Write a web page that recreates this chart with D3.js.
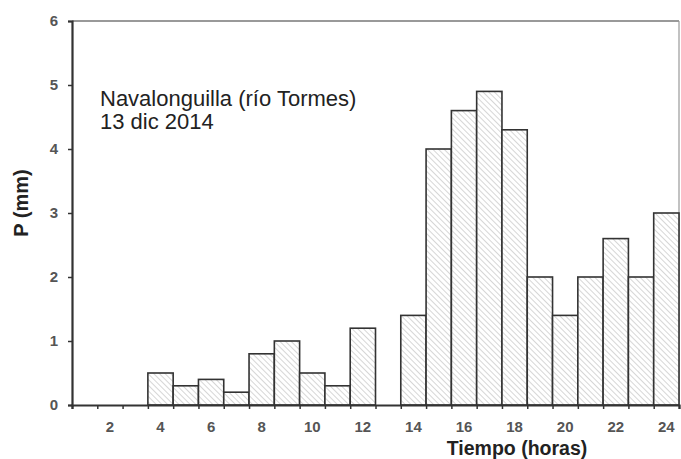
<!DOCTYPE html>
<html>
<head>
<meta charset="utf-8">
<script src="https://cdn.jsdelivr.net/npm/d3@7"></script>
<style>
  body { margin: 0; background: #fff; }
  text { font-family: "Liberation Sans", Arial, sans-serif; }
</style>
</head>
<body>
<svg id="chart" width="681" height="459"></svg>
<script>
// hourly precipitation, value for the hour ending at "hour"
var hours = [1, 2, 3, 4, 5, 6, 7, 8, 9, 10, 11, 12, 13, 14, 15, 16, 17, 18, 19, 20, 21, 22, 23, 24];
var precip = [0, 0, 0, 0.5, 0.3, 0.4, 0.2, 0.8, 1.0, 0.5, 0.3, 1.2, 0, 1.4, 4.0, 4.6, 4.9, 4.3, 2.0, 1.4, 2.0, 2.6, 2.0, 3.0];
var xLabels = [2, 4, 6, 8, 10, 12, 14, 16, 18, 20, 22, 24];
var yTicks = [0, 1, 2, 3, 4, 5, 6];
var noteLines = ["Navalonguilla (río Tormes)", "13 dic 2014"];

var data = hours.map(function (h, i) { return { hour: h, p: precip[i] }; });

var svg = d3.select("#chart");

var plotLeft = 72, plotRight = 679, plotTop = 21, plotBottom = 405;

var xScale = d3.scaleLinear().domain([0, 24]).range([plotLeft, plotRight]);
var yScale = d3.scaleLinear().domain([0, 6]).range([plotBottom, plotTop]);

// hatch pattern for the bars
var defs = svg.append("defs");
var pat = defs.append("pattern")
    .attr("id", "hatch")
    .attr("patternUnits", "userSpaceOnUse")
    .attr("width", 4)
    .attr("height", 4)
    .attr("patternTransform", "rotate(-45)");
pat.append("rect").attr("width", 4).attr("height", 4).attr("fill", "#fff");
pat.append("line")
    .attr("x1", 0).attr("y1", 0).attr("x2", 0).attr("y2", 4)
    .attr("stroke", "#b5b5b5")
    .attr("stroke-width", 1.1);

// frame top and right
svg.append("line")
    .attr("x1", plotLeft).attr("x2", plotRight).attr("y1", plotTop).attr("y2", plotTop)
    .attr("stroke", "#777").attr("stroke-width", 1.5);
svg.append("line")
    .attr("x1", plotRight).attr("x2", plotRight).attr("y1", plotTop).attr("y2", plotBottom)
    .attr("stroke", "#999").attr("stroke-width", 1.2);

// bars
svg.selectAll("rect.bar")
    .data(data.filter(function (d) { return d.p > 0; }))
    .enter().append("rect")
    .attr("class", "bar")
    .attr("x", function (d) { return xScale(d.hour - 1); })
    .attr("width", function (d) { return xScale(d.hour) - xScale(d.hour - 1); })
    .attr("y", function (d) { return yScale(d.p); })
    .attr("height", function (d) { return yScale(0) - yScale(d.p); })
    .attr("fill", "url(#hatch)")
    .attr("stroke", "#333")
    .attr("stroke-width", 1.6);

// x axis: ticks every hour, labels centred in the even hours
var xAxis = d3.axisBottom(xScale)
    .tickValues(d3.range(0, 25))
    .tickSize(4)
    .tickFormat("");
var gx = svg.append("g")
    .attr("transform", "translate(0," + plotBottom + ")")
    .call(xAxis);
gx.select(".domain").attr("stroke", "#333").attr("stroke-width", 2.2);
gx.selectAll(".tick line").attr("stroke", "#333").attr("stroke-width", 1.5);

svg.selectAll("text.xlab")
    .data(xLabels)
    .enter().append("text")
    .attr("class", "xlab")
    .attr("x", function (d) { return xScale(d - 0.5); })
    .attr("y", 432)
    .attr("text-anchor", "middle")
    .attr("font-size", 15)
    .attr("font-weight", "bold")
    .attr("fill", "#555")
    .text(function (d) { return d; });

// y axis
var yAxis = d3.axisLeft(yScale)
    .tickValues(yTicks)
    .tickSize(4)
    .tickPadding(10)
    .tickFormat(d3.format("d"));
var gy = svg.append("g")
    .attr("transform", "translate(" + plotLeft + ",0)")
    .call(yAxis);
gy.select(".domain").attr("stroke", "#333").attr("stroke-width", 2.2);
gy.selectAll(".tick line").attr("stroke", "#333").attr("stroke-width", 1.5);
gy.selectAll(".tick text")
    .attr("font-size", 15)
    .attr("font-weight", "bold")
    .attr("font-family", "Liberation Sans, Arial, sans-serif")
    .attr("fill", "#555");

// axis titles
svg.append("text")
    .attr("x", 517)
    .attr("y", 455)
    .attr("text-anchor", "middle")
    .attr("font-size", 19.5)
    .attr("font-weight", "bold")
    .attr("fill", "#222")
    .text("Tiempo (horas)");

svg.append("text")
    .attr("transform", "translate(28,203) rotate(-90)")
    .attr("text-anchor", "middle")
    .attr("font-size", 20)
    .attr("font-weight", "bold")
    .attr("fill", "#222")
    .text("P (mm)");

// annotation
svg.selectAll("text.note")
    .data(noteLines)
    .enter().append("text")
    .attr("class", "note")
    .attr("x", 100)
    .attr("y", function (d, i) { return 106 + i * 23; })
    .attr("font-size", 22)
    .attr("fill", "#222")
    .text(function (d) { return d; });
</script>
</body>
</html>
